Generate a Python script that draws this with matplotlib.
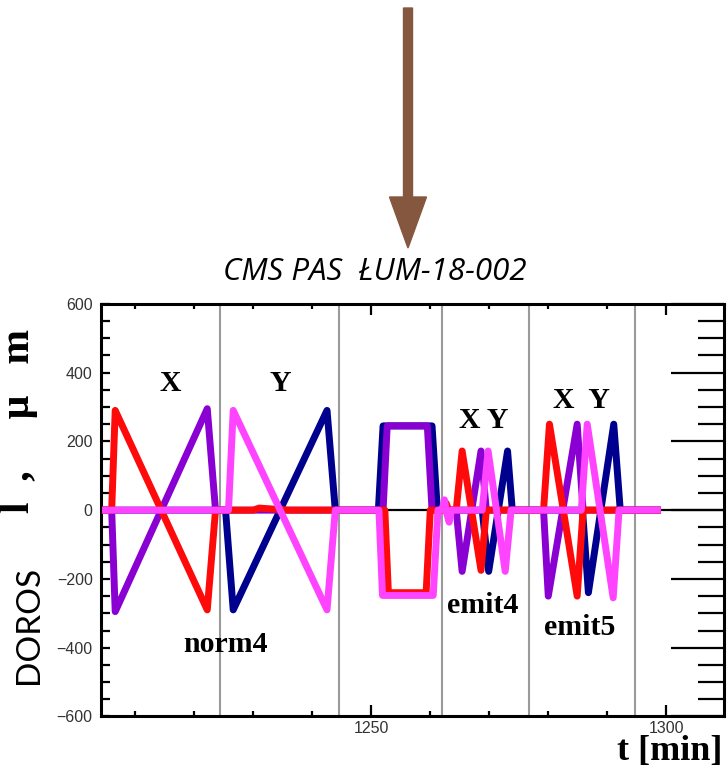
import matplotlib
matplotlib.use("Agg")
import matplotlib.pyplot as plt
from matplotlib.patches import FancyArrow
from matplotlib.ticker import MultipleLocator

# DOROS beam-position traces (t in min, l in um)
red_t = [1204.6, 1206.0, 1206.6, 1222.2, 1223.6, 1230.0, 1231.0, 1236.0, 1252.3, 1252.9, 1259.3, 1260.0,
         1262.3, 1262.7, 1263.1, 1264.4, 1265.4, 1268.6, 1269.5, 1279.2, 1280.2, 1284.9, 1285.9, 1298.5]
red_l = [0, 0, 290, -290, 0, 0, 6, 0, 0, -240, -240, 0,
         0, 20, 0, 0, 172, -175, 0, 0, 250, -250, 0, 0]

purple_t = [1204.6, 1206.0, 1206.6, 1222.2, 1223.6, 1252.0, 1252.7, 1259.5, 1260.3,
            1264.4, 1265.4, 1268.6, 1269.5, 1279.2, 1280.0, 1284.9, 1285.9, 1298.5]
purple_l = [0, 0, -295, 295, 0, 0, 245, 245, 0,
            0, -178, 172, 0, 0, -250, 250, 0, 0]

navy_t = [1204.6, 1225.3, 1226.6, 1242.5, 1243.9, 1251.2, 1252.0, 1260.3, 1261.2,
          1268.8, 1269.9, 1273.1, 1273.9, 1285.8, 1286.8, 1291.1, 1292.2, 1298.5]
navy_l = [0, 0, -290, 290, 0, 0, 245, 245, 0,
          0, -178, 172, 0, 0, -240, 250, 0, 0]

pink_t = [1204.6, 1225.8, 1226.6, 1242.5, 1243.9, 1251.3, 1251.9, 1260.5, 1261.3,
          1262.0, 1262.4, 1262.8, 1263.2, 1263.6, 1268.8, 1269.8, 1272.7, 1273.7,
          1285.6, 1286.6, 1291.0, 1292.0, 1298.5]
pink_l = [0, 0, 290, -290, 0, 0, -248, -248, 0,
          0, 30, -10, -35, 0, 0, 172, -178, 0,
          0, 250, -255, 0, 0]

# vertical separators between the scan blocks
block_edges = [1224.4, 1244.6, 1262.0, 1276.8, 1294.7]

# block annotations
scan_labels = ["X", "Y", "norm4", "X Y", "emit4", "X  Y", "emit5"]
scan_label_t = [1215.9, 1234.6, 1225.3, 1269.0, 1268.8, 1285.6, 1285.4]
scan_label_l = [369, 369, -392, 262, -276, 320, -340]

serif = "Liberation Serif"
sans = "Liberation Sans"

fig = plt.figure(figsize=(7.27, 7.75), dpi=100)
ax = fig.add_axes([0.139, 0.0755, 0.857, 0.5325])

for t in block_edges:
    ax.axvline(t, color="#9a9a9a", lw=1.5, zorder=1)
ax.axhline(0, color="black", lw=1.6, zorder=2)

ax.plot(navy_t, navy_l, color="#00008f", lw=5, zorder=3)
ax.plot(purple_t, purple_l, color="#8a00d2", lw=5, zorder=4)
ax.plot(red_t, red_l, color="#ff0a0a", lw=5, zorder=5)
ax.plot(pink_t, pink_l, color="#ff44ff", lw=5, zorder=6)

for txt, t, l in zip(scan_labels, scan_label_t, scan_label_l):
    ax.text(t, l, txt, ha="center", va="center", fontsize=21.5,
            fontweight="bold", family=serif, zorder=7)

ax.set_xlim(1204.2, 1309.8)
ax.set_ylim(-600, 600)
ax.set_xticks([1250, 1300])
ax.xaxis.set_minor_locator(MultipleLocator(10))
ax.yaxis.set_major_locator(MultipleLocator(200))
ax.yaxis.set_minor_locator(MultipleLocator(50))
ax.tick_params(axis="x", which="major", direction="in", top=True, length=8, width=1.6, pad=3)
ax.tick_params(axis="x", which="minor", direction="in", top=True, length=3.5, width=1.6)
ax.tick_params(axis="y", which="both", direction="in", length=6.5, width=1.6, pad=6)
ax.tick_params(labelsize=11.5, labelcolor="#333333")
for lab in ax.get_xticklabels() + ax.get_yticklabels():
    lab.set_family(sans)
for sp in ax.spines.values():
    sp.set_linewidth(2.2)

# long ticks on the right-hand side
ax2 = ax.twinx()
ax2.set_ylim(-600, 600)
ax2.yaxis.set_major_locator(MultipleLocator(200))
ax2.yaxis.set_minor_locator(MultipleLocator(50))
ax2.tick_params(axis="y", which="major", direction="in", length=38, width=1.6, labelright=False)
ax2.tick_params(axis="y", which="minor", direction="in", length=19, width=1.6)

fig.text(0.026, 0.457, "l  ,     \u03bc   m", rotation=90, ha="center", va="center",
         fontsize=30, fontweight="bold", family=serif)
fig.text(0.040, 0.193, "DOROS", rotation=90, ha="center", va="center",
         fontsize=24, family="Lato")
fig.text(0.993, 0.030, "t [min]", ha="right", va="center",
         fontsize=26, fontweight="bold", family=serif)
fig.text(0.516, 0.649, "CMS PAS  \u0141UM-18-002", ha="center", va="center",
         fontsize=22.5, style="italic", family="Open Sans")

arrow = FancyArrow(4.08, 7.67, 0, -2.40, width=0.09, head_width=0.37,
                   head_length=0.51, length_includes_head=True,
                   color="#86573f", transform=fig.dpi_scale_trans)
fig.patches.append(arrow)

fig.savefig("out.png", dpi=100)
